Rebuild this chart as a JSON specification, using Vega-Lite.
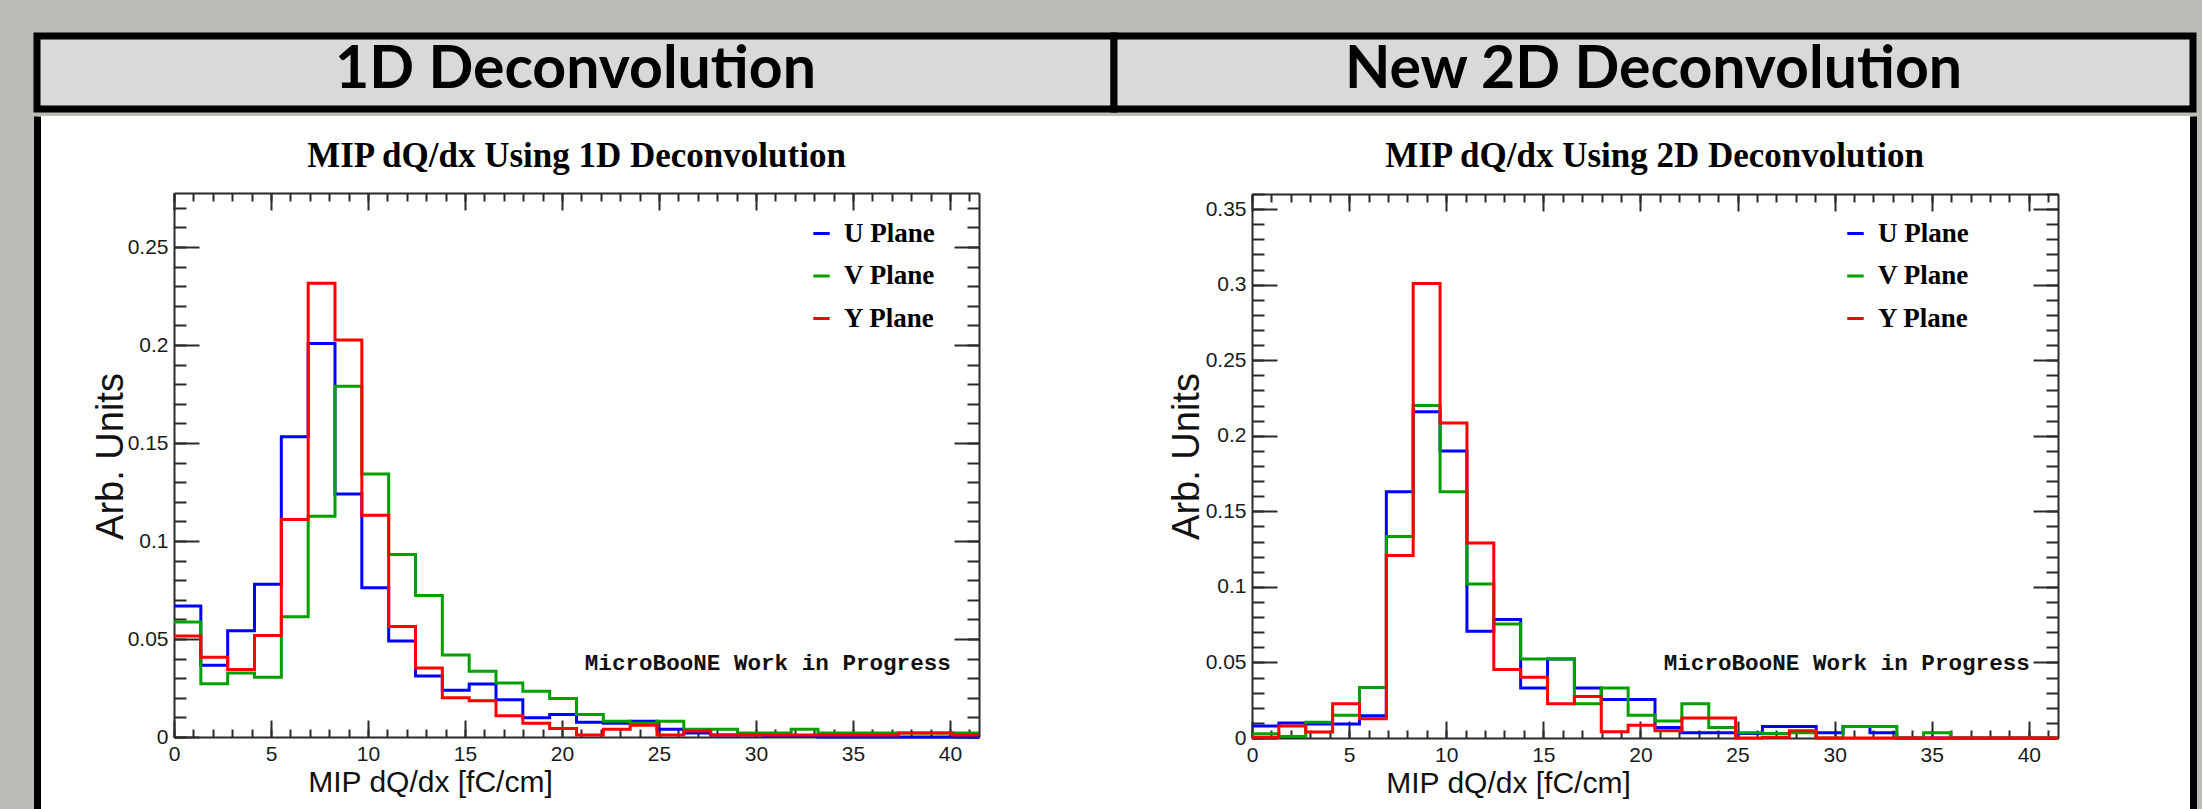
{
  "$schema": "https://vega.github.io/schema/vega-lite/v6.json",
  "background": "#babdb5",
  "padding": {"left": 33, "top": 32, "right": 5, "bottom": 0},
  "config": {
    "view": {"stroke": null},
    "axis": {
      "labelFont": "Liberation Sans", "labelFontSize": 21, "labelColor": "#1a1a1a", "labelPadding": 6,
      "labelFlush": false, "labelOverlap": false,
      "domainColor": "#2a2a2a", "domainWidth": 2, "gridColor": "#2a2a2a", "gridWidth": 2, "gridOpacity": 1,
      "ticks": false,
      "titleFont": "Liberation Sans", "titleFontSize": 30, "titleFontWeight": "normal", "titleColor": "#111111"
    },
    "legend": {
      "orient": "none", "title": null, "symbolType": "stroke", "symbolSize": 270, "symbolStrokeWidth": 3,
      "labelFont": "Liberation Serif", "labelFontWeight": "bold", "labelFontSize": 27, "labelColor": "#000000",
      "rowPadding": 14.5, "labelOffset": 9, "padding": 0
    }
  },
  "datasets": {
    "d1": [
      {"x": 0, "U Plane": 0.0668, "V Plane": 0.0587, "Y Plane": 0.0516},
      {"x": 1.383, "U Plane": 0.0366, "V Plane": 0.0272, "Y Plane": 0.0407},
      {"x": 2.767, "U Plane": 0.0542, "V Plane": 0.0326, "Y Plane": 0.0344},
      {"x": 4.15, "U Plane": 0.0779, "V Plane": 0.0305, "Y Plane": 0.0518},
      {"x": 5.533, "U Plane": 0.1532, "V Plane": 0.0614, "Y Plane": 0.111},
      {"x": 6.917, "U Plane": 0.2008, "V Plane": 0.1127, "Y Plane": 0.2315},
      {"x": 8.3, "U Plane": 0.124, "V Plane": 0.179, "Y Plane": 0.2026},
      {"x": 9.683, "U Plane": 0.0762, "V Plane": 0.1342, "Y Plane": 0.1131},
      {"x": 11.067, "U Plane": 0.049, "V Plane": 0.0931, "Y Plane": 0.0564},
      {"x": 12.45, "U Plane": 0.0311, "V Plane": 0.0722, "Y Plane": 0.0352},
      {"x": 13.833, "U Plane": 0.0239, "V Plane": 0.0418, "Y Plane": 0.02},
      {"x": 15.217, "U Plane": 0.027, "V Plane": 0.0335, "Y Plane": 0.0185},
      {"x": 16.6, "U Plane": 0.019, "V Plane": 0.0276, "Y Plane": 0.0109},
      {"x": 17.983, "U Plane": 0.0098, "V Plane": 0.0233, "Y Plane": 0.007},
      {"x": 19.367, "U Plane": 0.0115, "V Plane": 0.0196, "Y Plane": 0.0044},
      {"x": 20.75, "U Plane": 0.0075, "V Plane": 0.0115, "Y Plane": 0.001},
      {"x": 22.133, "U Plane": 0.007, "V Plane": 0.008, "Y Plane": 0.004},
      {"x": 23.517, "U Plane": 0.008, "V Plane": 0.007, "Y Plane": 0.006},
      {"x": 24.9, "U Plane": 0.004, "V Plane": 0.008, "Y Plane": 0.001},
      {"x": 26.283, "U Plane": 0.002, "V Plane": 0.004, "Y Plane": 0.003},
      {"x": 27.667, "U Plane": 0.001, "V Plane": 0.004, "Y Plane": 0.001},
      {"x": 29.05, "U Plane": 0.001, "V Plane": 0.002, "Y Plane": 0.001},
      {"x": 30.433, "U Plane": 0.0005, "V Plane": 0.002, "Y Plane": 0.001},
      {"x": 31.817, "U Plane": 0.0005, "V Plane": 0.004, "Y Plane": 0.001},
      {"x": 33.2, "U Plane": 0, "V Plane": 0.002, "Y Plane": 0.001},
      {"x": 34.583, "U Plane": 0, "V Plane": 0.002, "Y Plane": 0.001},
      {"x": 35.967, "U Plane": 0, "V Plane": 0.002, "Y Plane": 0.001},
      {"x": 37.35, "U Plane": 0, "V Plane": 0.002, "Y Plane": 0.002},
      {"x": 38.733, "U Plane": 0, "V Plane": 0.002, "Y Plane": 0.002},
      {"x": 40.117, "U Plane": 0, "V Plane": 0.002, "Y Plane": 0.001},
      {"x": 41.5, "U Plane": 0, "V Plane": 0.002, "Y Plane": 0.001}
    ],
    "d2": [
      {"x": 0, "U Plane": 0.0079, "V Plane": 0.0028, "Y Plane": 0.0005},
      {"x": 1.383, "U Plane": 0.0099, "V Plane": 0.001, "Y Plane": 0.0079},
      {"x": 2.767, "U Plane": 0.0093, "V Plane": 0.0105, "Y Plane": 0.004},
      {"x": 4.15, "U Plane": 0.0093, "V Plane": 0.015, "Y Plane": 0.0226},
      {"x": 5.533, "U Plane": 0.0147, "V Plane": 0.0334, "Y Plane": 0.0127},
      {"x": 6.917, "U Plane": 0.163, "V Plane": 0.1333, "Y Plane": 0.1208},
      {"x": 8.3, "U Plane": 0.2159, "V Plane": 0.2201, "Y Plane": 0.3008},
      {"x": 9.683, "U Plane": 0.19, "V Plane": 0.163, "Y Plane": 0.2085},
      {"x": 11.067, "U Plane": 0.0707, "V Plane": 0.1019, "Y Plane": 0.129},
      {"x": 12.45, "U Plane": 0.0784, "V Plane": 0.0755, "Y Plane": 0.0453},
      {"x": 13.833, "U Plane": 0.0331, "V Plane": 0.0523, "Y Plane": 0.0402},
      {"x": 15.217, "U Plane": 0.0523, "V Plane": 0.0523, "Y Plane": 0.0226},
      {"x": 16.6, "U Plane": 0.0331, "V Plane": 0.0226, "Y Plane": 0.0274},
      {"x": 17.983, "U Plane": 0.0255, "V Plane": 0.0331, "Y Plane": 0.0042},
      {"x": 19.367, "U Plane": 0.0255, "V Plane": 0.015, "Y Plane": 0.0085},
      {"x": 20.75, "U Plane": 0.007, "V Plane": 0.0113, "Y Plane": 0.0048},
      {"x": 22.133, "U Plane": 0.0034, "V Plane": 0.0226, "Y Plane": 0.0133},
      {"x": 23.517, "U Plane": 0.0034, "V Plane": 0.007, "Y Plane": 0.0133},
      {"x": 24.9, "U Plane": 0.003, "V Plane": 0.0034, "Y Plane": 0},
      {"x": 26.283, "U Plane": 0.0076, "V Plane": 0.003, "Y Plane": 0.0005},
      {"x": 27.667, "U Plane": 0.0076, "V Plane": 0.0034, "Y Plane": 0.0048},
      {"x": 29.05, "U Plane": 0.0034, "V Plane": 0, "Y Plane": 0},
      {"x": 30.433, "U Plane": 0.0076, "V Plane": 0.0076, "Y Plane": 0},
      {"x": 31.817, "U Plane": 0.0034, "V Plane": 0.0076, "Y Plane": 0},
      {"x": 33.2, "U Plane": 0, "V Plane": 0, "Y Plane": 0},
      {"x": 34.583, "U Plane": 0, "V Plane": 0.0034, "Y Plane": 0},
      {"x": 35.967, "U Plane": 0, "V Plane": 0, "Y Plane": 0},
      {"x": 37.35, "U Plane": 0, "V Plane": 0, "Y Plane": 0},
      {"x": 38.733, "U Plane": 0, "V Plane": 0, "Y Plane": 0},
      {"x": 40.117, "U Plane": 0, "V Plane": 0, "Y Plane": 0},
      {"x": 41.5, "U Plane": 0, "V Plane": 0, "Y Plane": 0}
    ]
  },
  "spacing": 0,
  "vconcat": [
    {
      "bounds": "flush",
      "spacing": 0,
      "hconcat": [
        {
          "width": 1077, "height": 73,
          "view": {"fill": "#d9d9d9", "stroke": "#000000", "strokeWidth": 7},
          "data": {"values": [{"t": "1D Deconvolution"}]},
          "mark": {"type": "text", "font": "Lato", "fontWeight": "bold", "fontSize": 59, "baseline": "middle", "align": "center", "dy": -3, "color": "#000000"},
          "encoding": {"text": {"field": "t"}}
        },
        {
          "width": 1079, "height": 73,
          "view": {"fill": "#d9d9d9", "stroke": "#000000", "strokeWidth": 7},
          "data": {"values": [{"t": "New 2D Deconvolution"}]},
          "mark": {"type": "text", "font": "Lato", "fontWeight": "bold", "fontSize": 59, "baseline": "middle", "align": "center", "dy": -3, "color": "#000000"},
          "encoding": {"text": {"field": "t"}}
        }
      ]
    },
    {
      "width": 2156, "height": 697,
      "view": {"fill": "#ffffff", "stroke": null},
      "resolve": {
        "scale": {"x": "independent", "y": "independent", "color": "independent"},
        "axis": {"x": "independent", "y": "independent"},
        "legend": {"color": "independent"}
      },
      "layer": [
        {
          "data": {"values": [{"b": 0}, {"b": 1}]},
          "mark": {"type": "point", "opacity": 0},
          "encoding": {
            "x": {"field": "b", "type": "quantitative", "axis": null},
            "y": {"field": "b", "type": "quantitative", "scale": {"domain": [0, 1], "nice": false},
              "axis": {"orient": "left", "offset": 0, "domainColor": "#000000", "domainWidth": 7, "labels": false, "grid": false, "title": null, "values": []}}
          }
        },
        {
          "data": {"values": [{"b": 0}, {"b": 1}]},
          "mark": {"type": "point", "opacity": 0},
          "encoding": {
            "x": {"field": "b", "type": "quantitative", "axis": null},
            "y": {"field": "b", "type": "quantitative", "scale": {"domain": [0, 1], "nice": false},
              "axis": {"orient": "right", "offset": 0, "domainColor": "#000000", "domainWidth": 7, "labels": false, "grid": false, "title": null, "values": []}}
          }
        },
        {
          "data": {"name": "d1"},
          "transform": [{"fold": ["U Plane", "V Plane", "Y Plane"], "as": ["plane", "v"]}],
          "mark": {"type": "line", "interpolate": "step-after", "strokeWidth": 3},
          "encoding": {
            "x": {"field": "x", "type": "quantitative",
              "scale": {"domain": [0, 41.5], "range": [137, 942], "nice": false, "zero": false},
              "axis": {"orient": "bottom", "offset": -76, "values": [0, 5, 10, 15, 20, 25, 30, 35, 40], "format": "~g", "grid": false,
                "title": "MIP dQ/dx [fC/cm]", "titleX": 393, "titleY": 45, "titleAlign": "center", "titleBaseline": "middle"}},
            "y": {"field": "v", "type": "quantitative",
              "scale": {"domain": [0, 0.2776], "range": [621, 77], "nice": false, "zero": false},
              "axis": {"orient": "left", "offset": -137, "values": [0, 0.05, 0.1, 0.15, 0.2, 0.25], "format": "~g",
                "grid": true, "gridDash": [25, 755, 25, 10000],
                "title": "Arb. Units", "titleFontSize": 38, "titleX": -63, "titleY": 340, "titleAlign": "center", "titleBaseline": "middle", "titleAngle": -90}},
            "color": {"field": "plane", "type": "nominal",
              "scale": {"domain": ["U Plane", "V Plane", "Y Plane"], "range": ["#0000ff", "#00a000", "#ff0000"]},
              "legend": {"legendX": 771, "legendY": 104}}
          }
        },
        {
          "data": {"name": "d1"},
          "mark": {"type": "point", "opacity": 0},
          "encoding": {
            "x": {"field": "x", "type": "quantitative",
              "scale": {"domain": [0, 41.5], "range": [137, 942], "nice": false, "zero": false},
              "axis": {"orient": "top", "offset": -77, "values": [0, 5, 10, 15, 20, 25, 30, 35, 40], "labels": false,
                "grid": true, "gridDash": [17, 510, 17, 10000],
                "title": "MIP dQ/dx Using 1D Deconvolution", "titleFont": "Liberation Serif", "titleFontWeight": "bold", "titleFontSize": 35, "titleColor": "#000000",
                "titleX": 539, "titleY": -38, "titleAlign": "center", "titleBaseline": "middle"}},
            "y": {"field": "U Plane", "type": "quantitative",
              "scale": {"domain": [0, 0.2776], "range": [621, 77], "nice": false, "zero": false},
              "axis": {"orient": "right", "offset": -1214, "labels": false, "grid": false, "title": null, "values": []}}
          }
        },
        {
          "data": {"values": [{"x": 40.05, "y": 0.038, "t": "MicroBooNE Work in Progress"}]},
          "mark": {"type": "text", "align": "right", "baseline": "middle", "font": "Liberation Mono", "fontWeight": "bold", "fontSize": 22.6, "color": "#111111"},
          "encoding": {
            "x": {"field": "x", "type": "quantitative",
              "scale": {"domain": [0, 41.5], "range": [137, 942], "nice": false, "zero": false},
              "axis": {"orient": "top", "offset": -77, "values": [0,1,2,3,4,5,6,7,8,9,10,11,12,13,14,15,16,17,18,19,20,21,22,23,24,25,26,27,28,29,30,31,32,33,34,35,36,37,38,39,40,41],
                "labels": false, "domain": false, "grid": true, "gridDash": [8, 528, 8, 10000], "title": null}},
            "y": {"field": "y", "type": "quantitative",
              "scale": {"domain": [0, 0.2776], "range": [621, 77], "nice": false, "zero": false},
              "axis": {"orient": "left", "offset": -137, "values": [0,0.01,0.02,0.03,0.04,0.05,0.06,0.07,0.08,0.09,0.1,0.11,0.12,0.13,0.14,0.15,0.16,0.17,0.18,0.19,0.2,0.21,0.22,0.23,0.24,0.25,0.26,0.27],
                "labels": false, "domain": false, "grid": true, "gridDash": [12, 781, 12, 10000], "title": null}},
            "text": {"field": "t"}
          }
        },
        {
          "data": {"name": "d2"},
          "transform": [{"fold": ["U Plane", "V Plane", "Y Plane"], "as": ["plane", "v"]}],
          "mark": {"type": "line", "interpolate": "step-after", "strokeWidth": 3},
          "encoding": {
            "x": {"field": "x", "type": "quantitative",
              "scale": {"domain": [0, 41.5], "range": [1215, 2021], "nice": false, "zero": false},
              "axis": {"orient": "bottom", "offset": -75, "values": [0, 5, 10, 15, 20, 25, 30, 35, 40], "format": "~g", "grid": false,
                "title": "MIP dQ/dx [fC/cm]", "titleX": 1471, "titleY": 45, "titleAlign": "center", "titleBaseline": "middle"}},
            "y": {"field": "v", "type": "quantitative",
              "scale": {"domain": [0, 0.36], "range": [622, 78], "nice": false, "zero": false},
              "axis": {"orient": "left", "offset": -1215, "values": [0, 0.05, 0.1, 0.15, 0.2, 0.25, 0.3, 0.35], "format": "~g",
                "grid": true, "gridDash": [25, 756, 25, 10000],
                "title": "Arb. Units", "titleFontSize": 38, "titleX": -65, "titleY": 340, "titleAlign": "center", "titleBaseline": "middle", "titleAngle": -90}},
            "color": {"field": "plane", "type": "nominal",
              "scale": {"domain": ["U Plane", "V Plane", "Y Plane"], "range": ["#0000ff", "#00a000", "#ff0000"]},
              "legend": {"legendX": 1805, "legendY": 104}}
          }
        },
        {
          "data": {"name": "d2"},
          "mark": {"type": "point", "opacity": 0},
          "encoding": {
            "x": {"field": "x", "type": "quantitative",
              "scale": {"domain": [0, 41.5], "range": [1215, 2021], "nice": false, "zero": false},
              "axis": {"orient": "top", "offset": -78, "values": [0, 5, 10, 15, 20, 25, 30, 35, 40], "labels": false,
                "grid": true, "gridDash": [17, 510, 17, 10000],
                "title": "MIP dQ/dx Using 2D Deconvolution", "titleFont": "Liberation Serif", "titleFontWeight": "bold", "titleFontSize": 35, "titleColor": "#000000",
                "titleX": 1617, "titleY": -39, "titleAlign": "center", "titleBaseline": "middle"}},
            "y": {"field": "U Plane", "type": "quantitative",
              "scale": {"domain": [0, 0.36], "range": [622, 78], "nice": false, "zero": false},
              "axis": {"orient": "right", "offset": -135, "labels": false, "grid": false, "title": null, "values": []}}
          }
        },
        {
          "data": {"values": [{"x": 40.05, "y": 0.0496, "t": "MicroBooNE Work in Progress"}]},
          "mark": {"type": "text", "align": "right", "baseline": "middle", "font": "Liberation Mono", "fontWeight": "bold", "fontSize": 22.6, "color": "#111111"},
          "encoding": {
            "x": {"field": "x", "type": "quantitative",
              "scale": {"domain": [0, 41.5], "range": [1215, 2021], "nice": false, "zero": false},
              "axis": {"orient": "top", "offset": -78, "values": [0,1,2,3,4,5,6,7,8,9,10,11,12,13,14,15,16,17,18,19,20,21,22,23,24,25,26,27,28,29,30,31,32,33,34,35,36,37,38,39,40,41],
                "labels": false, "domain": false, "grid": true, "gridDash": [8, 528, 8, 10000], "title": null}},
            "y": {"field": "y", "type": "quantitative",
              "scale": {"domain": [0, 0.36], "range": [622, 78], "nice": false, "zero": false},
              "axis": {"orient": "left", "offset": -1215, "values": [0,0.01,0.02,0.03,0.04,0.05,0.06,0.07,0.08,0.09,0.1,0.11,0.12,0.13,0.14,0.15,0.16,0.17,0.18,0.19,0.2,0.21,0.22,0.23,0.24,0.25,0.26,0.27,0.28,0.29,0.3,0.31,0.32,0.33,0.34,0.35,0.36],
                "labels": false, "domain": false, "grid": true, "gridDash": [12, 782, 12, 10000], "title": null}},
            "text": {"field": "t"}
          }
        }
      ]
    }
  ]
}
